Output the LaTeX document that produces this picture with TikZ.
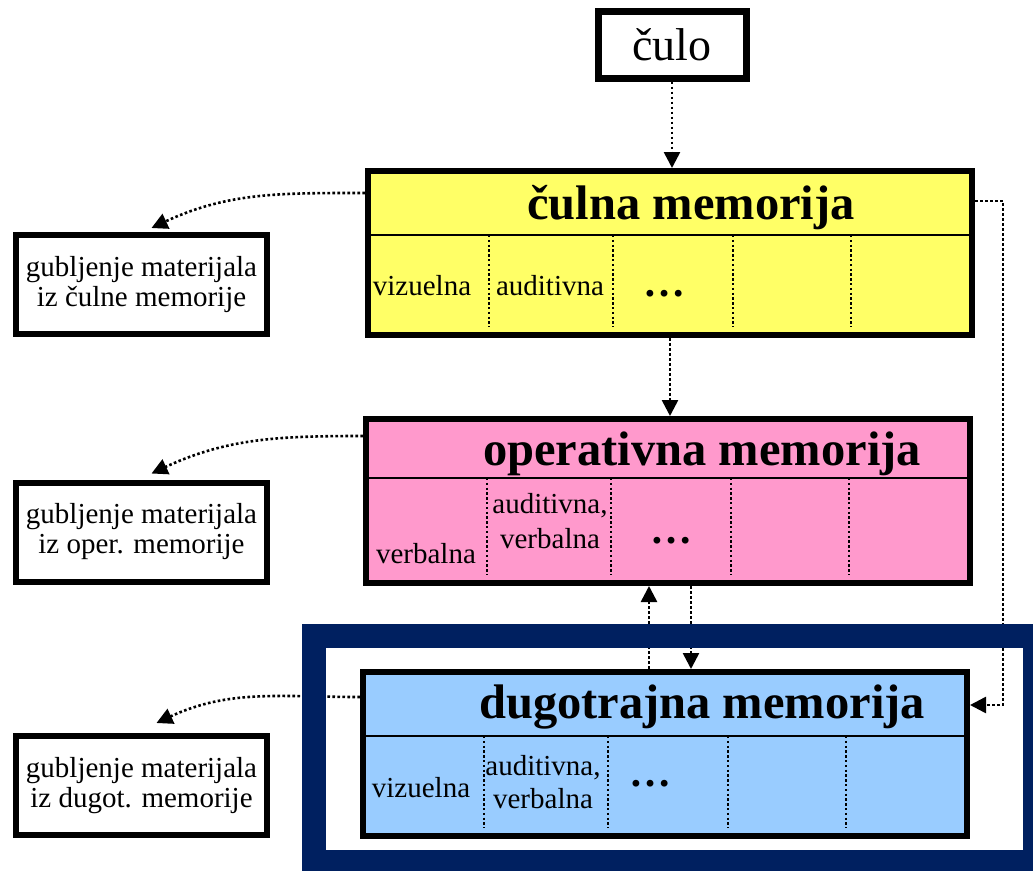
\documentclass[tikz,border=0pt]{standalone}
\usepackage{fontspec}
\setmainfont{Liberation Serif}
\usetikzlibrary{positioning, calc, arrows.meta}
\definecolor{zuta}{HTML}{FFFF66}
\definecolor{roze}{HTML}{FF99CC}
\definecolor{plava}{HTML}{99CCFF}
\definecolor{teget}{HTML}{002060}

\begin{document}
\begin{tikzpicture}[x=1pt, y=-1pt,
    memorija/.style={draw, line width=6pt, minimum width=604pt, minimum height=164pt, inner sep=0pt},
    gubitak/.style={draw, line width=6pt, minimum width=251pt, minimum height=99pt, align=center, fill=white, font=\fontsize{29}{30}\selectfont},
    naslov/.style={anchor=base, font=\fontsize{48.5}{50}\selectfont\bfseries},
    celija/.style={anchor=base, align=center, font=\fontsize{29}{35}\selectfont},
    tacke/.style={anchor=base, font=\fontsize{42}{42}\selectfont\bfseries},
    tok/.style={line width=2.6pt, dash pattern=on 2.6pt off 2.4pt, -{Triangle[length=16pt, width=16pt]}},
    pregrada/.style={line width=2.4pt, dash pattern=on 2.4pt off 2.4pt}]

    \useasboundingbox (0,0) rectangle (1033,870);
    \clip (0,0) rectangle (1033,870);

    % chain of memories, one below the other
    \node[draw, line width=7pt, minimum width=148pt, minimum height=67pt, font=\fontsize{46}{46}\selectfont] (culo) at (672,44.5) {čulo};
    \node[memorija, fill=zuta, below=86.5pt of culo, xshift=-2pt] (culna) {};
    \node[memorija, fill=roze, below=78pt of culna, xshift=-2pt] (oper) {};
    \node[memorija, fill=plava, below=83pt of oper, xshift=-3pt] (dugo) {};

    % header lines and dotted cell borders
    \foreach \m/\h in {culna/67, oper/62, dugo/67} {
        \draw[line width=2.5pt] ([yshift=-\h pt]\m.north west) -- ([yshift=-\h pt]\m.north east);
        \foreach \x in {124,248,368,486}
            \draw[pregrada] ([xshift=\x pt, yshift=-\h pt]\m.north west) -- ([xshift=\x pt, yshift=11pt]\m.south west);
    }

    % titles
    \node[naslov] (tculna) at (691,219) {čulna memorija};
    \node[naslov] (toper) at (702,465) {operativna memorija};
    \node[naslov] (tdugo) at (702,718) {dugotrajna memorija};

    % cells
    \node[celija] (cv1) at (422,295) {vizuelna};
    \node[celija] (ca1) at (550,295) {auditivna};
    \node[tacke] (ct1) at (664,296) {…};
    \node[celija] (cv2) at (426,563) {verbalna};
    \node[celija, anchor=center] (ca2) at (550,521) {auditivna,\\verbalna};
    \node[tacke] (ct2) at (671,543) {…};
    \node[celija] (cv3) at (421,797) {vizuelna};
    \node[celija, anchor=center, font=\fontsize{29}{33}\selectfont] (ca3) at (543,782) {auditivna,\\verbalna};
    \node[tacke] (ct3) at (650,786) {…};

    % loss of material
    \node[gubitak] (gub1) at (141.5,284.5) {gubljenje materijala\\iz čulne memorije};
    \node[gubitak] (gub2) at (141.5,532) {gubljenje materijala\\iz oper. memorije};
    \node[gubitak] (gub3) at (141.5,785.5) {gubljenje materijala\\iz dugot. memorije};

    % arrows
    \draw[tok] (culo.south) -- (culo.south |- culna.north);
    \draw[tok] (culna.south) -- (culna.south |- oper.north);
    \draw[tok] ([xshift=-16pt]dugo.north) -- ([xshift=-16pt]dugo.north |- oper.south);
    \draw[tok] ([xshift=23pt]oper.south) -- ([xshift=23pt]oper.south |- dugo.north);
    \draw[tok] ([yshift=52pt]culna.east) -- ++(28,0) |- ([yshift=49pt]dugo.east);
    \draw[tok] ([yshift=60pt]culna.west) to[out=180, in=25] ([xshift=10pt, yshift=4pt]gub1.north);
    \draw[tok] ([yshift=65pt]oper.west) to[out=180, in=25] ([xshift=10pt, yshift=6pt]gub2.north);
    \draw[tok] ([yshift=57pt]dugo.west) to[out=180, in=25] ([xshift=15pt, yshift=10pt]gub3.north);

    % frame round the long-term memory
    \node[draw=teget, line width=24pt, minimum width=721pt, minimum height=226pt, inner sep=0pt] (okvir) at (674.5,749) {};

\end{tikzpicture}
\end{document}
